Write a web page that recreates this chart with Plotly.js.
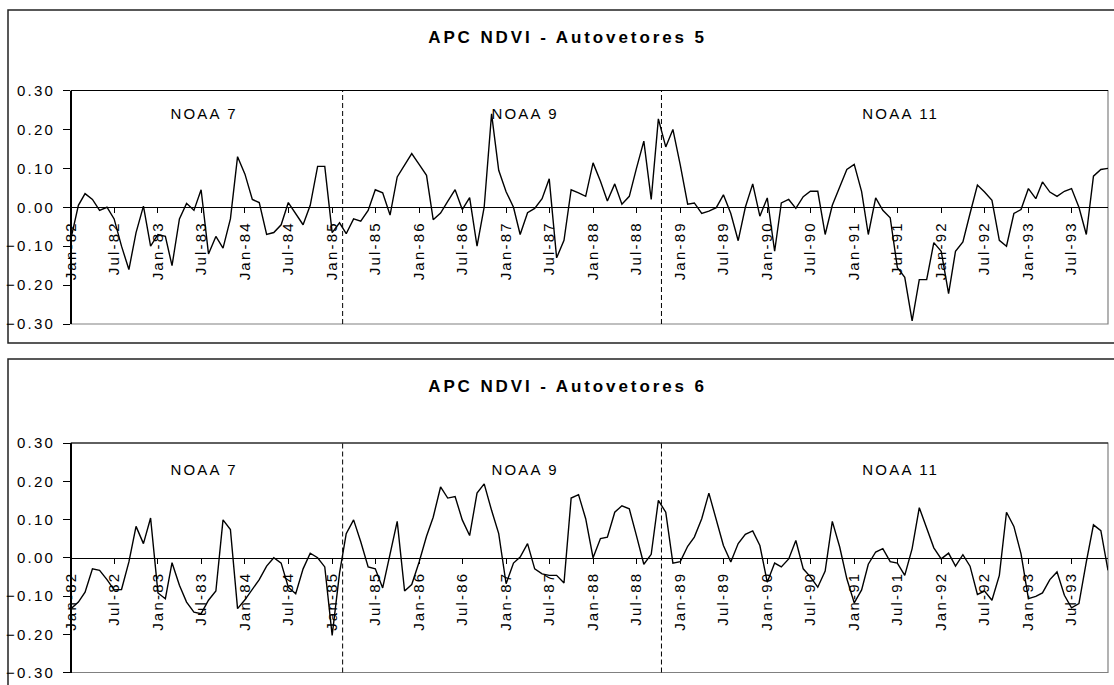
<!DOCTYPE html>
<html>
<head>
<meta charset="utf-8">
<script src="https://cdn.plot.ly/plotly-3.0.1.min.js"></script>
<style>
html,body{margin:0;padding:0;background:#fff;}
#chart{width:1114px;height:685px;}
#chart .main-svg text{letter-spacing:2.2px;}
#chart .main-svg .annotation.title-ann text{letter-spacing:2.9px;}
</style>
</head>
<body>
<div id="chart"></div>
<script>
// Monthly series, Jan-1982 .. Dec-1993 (144 months)
const startYear = 1982;
const pc5 = [
 -0.080, 0.005, 0.035, 0.020,-0.008, 0.000,-0.030,-0.100,-0.160,-0.065, 0.003,-0.100,
 -0.070,-0.075,-0.150,-0.030, 0.010,-0.008, 0.045,-0.120,-0.075,-0.105,-0.030, 0.130,
  0.085, 0.020, 0.012,-0.070,-0.065,-0.045, 0.012,-0.018,-0.045, 0.005, 0.105, 0.105,
 -0.065,-0.040,-0.068,-0.030,-0.036,-0.008, 0.045, 0.037,-0.020, 0.078, 0.110, 0.138,
  0.110, 0.082,-0.032,-0.015, 0.015, 0.045,-0.006, 0.025,-0.100, 0.000, 0.240, 0.095,
  0.040, 0.000,-0.070,-0.014,-0.003, 0.022, 0.073,-0.130,-0.085, 0.045, 0.037, 0.028,
  0.114, 0.067, 0.016, 0.060, 0.008, 0.028, 0.100, 0.170, 0.020, 0.227, 0.155, 0.200,
  0.108, 0.008, 0.011,-0.016,-0.010,-0.001, 0.032,-0.016,-0.086, 0.000, 0.060,-0.023,
  0.024,-0.113, 0.011, 0.020,-0.003, 0.027, 0.041, 0.041,-0.070, 0.005, 0.052, 0.097,
  0.110, 0.040,-0.070, 0.024,-0.008,-0.027,-0.155,-0.180,-0.292,-0.186,-0.186,-0.091,
 -0.113,-0.222,-0.113,-0.089,-0.016, 0.057, 0.039, 0.018,-0.085,-0.100,-0.016,-0.006,
  0.048, 0.022, 0.065, 0.039, 0.028, 0.041, 0.048, 0.000,-0.070, 0.080, 0.097, 0.100
];
const pc6 = [
 -0.133,-0.116,-0.090,-0.029,-0.033,-0.057,-0.084,-0.083,-0.011, 0.082, 0.037, 0.104,
 -0.092,-0.107,-0.013,-0.072,-0.116,-0.142,-0.146,-0.111,-0.087, 0.099, 0.074,-0.133,
 -0.110,-0.081,-0.057,-0.022, 0.000,-0.014,-0.077,-0.094,-0.029, 0.012, 0.000,-0.024,
 -0.203,-0.040, 0.063, 0.099, 0.042,-0.024,-0.029,-0.079, 0.006, 0.095,-0.087,-0.070,
 -0.011, 0.056, 0.106, 0.185, 0.156, 0.160, 0.099, 0.058, 0.169, 0.193, 0.124, 0.063,
 -0.068,-0.014, 0.002, 0.037,-0.029,-0.042,-0.046,-0.046,-0.066, 0.156, 0.165, 0.102,
  0.000, 0.050, 0.054, 0.119, 0.136, 0.128, 0.058,-0.017, 0.009, 0.150, 0.119,-0.014,
 -0.010, 0.030, 0.054, 0.102, 0.169, 0.099, 0.032,-0.011, 0.037, 0.061, 0.070, 0.032,
 -0.064,-0.014,-0.024,-0.003, 0.045,-0.029,-0.050,-0.077,-0.035, 0.095, 0.028,-0.055,
 -0.118,-0.084,-0.017, 0.015, 0.024,-0.010,-0.014,-0.046, 0.024, 0.131, 0.078, 0.026,
 -0.003, 0.012,-0.022, 0.008,-0.022,-0.096,-0.087,-0.111,-0.046, 0.119, 0.082, 0.010,
 -0.107,-0.101,-0.092,-0.057,-0.037,-0.098,-0.131,-0.120,-0.011, 0.086, 0.071,-0.033
];
const panelTitles = ['APC NDVI - Autovetores 5', 'APC NDVI - Autovetores 6'];
const satellites = ['NOAA 7', 'NOAA 9', 'NOAA 11'];
const satelliteChanges = ['1985-02-14', '1988-10-14'];
const yTicks = [-0.3, -0.2, -0.1, 0, 0.1, 0.2, 0.3];

const months = pc5.map((_, i) => {
  const y = startYear + Math.floor(i / 12);
  const m = (i % 12) + 1;
  return y + '-' + (m < 10 ? '0' + m : m) + '-01';
});

const W = 1114, H = 685;
const px = v => v / W;
const py = v => 1 - v / H;

const font = {family: 'Liberation Sans, Arial, sans-serif', size: 15, color: '#000'};

const traces = [
  {x: months, y: pc5, xaxis: 'x', yaxis: 'y', type: 'scatter', mode: 'lines',
   line: {color: '#000', width: 1.4}, hoverinfo: 'x+y'},
  {x: months, y: pc6, xaxis: 'x2', yaxis: 'y2', type: 'scatter', mode: 'lines',
   line: {color: '#000', width: 1.4}, hoverinfo: 'x+y'}
];

const xDom = [px(71), px(1108)];
const yDom1 = [py(324), py(90.5)];
const yDom2 = [py(672.5), py(443)];

function xAxis(pos) {
  return {
    type: 'date', domain: xDom, anchor: 'free', position: pos,
    range: [months[0], months[months.length - 1]],
    tick0: months[0], dtick: 'M6', tickformat: '%b-%y', tickangle: -90,
    ticks: 'outside', ticklen: 5, tickcolor: '#000', tickwidth: 1,
    showline: true, linecolor: '#000', linewidth: 1,
    showgrid: false, zeroline: false, tickfont: font, fixedrange: true,
    ticklabelstandoff: 2
  };
}
function yAxis(dom) {
  return {
    domain: dom, anchor: 'free', position: xDom[0], range: [-0.3, 0.3], tickvals: yTicks,
    tickformat: '.2f', ticks: 'outside', ticklen: 7, tickcolor: '#000',
    showline: true, linecolor: '#000', linewidth: 2,
    showgrid: false, zeroline: false, tickfont: font, fixedrange: true,
    ticklabelstandoff: 5
  };
}

const layout = {
  width: W, height: H, margin: {l: 0, r: 0, t: 0, b: 0},
  paper_bgcolor: '#fff', plot_bgcolor: '#fff', showlegend: false,
  xaxis: xAxis((yDom1[0] + yDom1[1]) / 2),
  yaxis: yAxis(yDom1),
  xaxis2: xAxis((yDom2[0] + yDom2[1]) / 2),
  yaxis2: yAxis(yDom2),
  shapes: [],
  annotations: []
};

// outer chart boxes
[[10, 343], [359, 700]].forEach(b => {
  layout.shapes.push({type: 'rect', xref: 'paper', yref: 'paper', layer: 'below',
    x0: px(8), x1: px(1124), y0: py(b[1]), y1: py(b[0]),
    line: {color: '#222', width: 1.5}, fillcolor: 'rgba(0,0,0,0)'});
});
// plot-area frames, top edges and satellite-change lines
[['x', 'y'], ['x2', 'y2']].forEach(([xa, ya]) => {
  layout.shapes.push({type: 'rect', xref: xa + ' domain', yref: ya + ' domain', layer: 'below',
    x0: 0, x1: 1, y0: 0, y1: 1, line: {color: '#808080', width: 1.2}});
  layout.shapes.push({type: 'line', xref: xa + ' domain', yref: ya + ' domain',
    x0: 0, x1: 1, y0: 1, y1: 1, line: {color: '#000', width: 1}});
  satelliteChanges.forEach(d => {
    layout.shapes.push({type: 'line', xref: xa, yref: ya + ' domain',
      x0: d, x1: d, y0: 0, y1: 1, line: {color: '#000', width: 1, dash: '5px,3px'}});
  });
});

// panel titles
const titleY = [37.5, 386.5];
panelTitles.forEach((t, k) => {
  layout.annotations.push({text: '<b>' + t + '</b>', xref: 'paper', yref: 'paper',
    x: px(567), y: py(titleY[k]), xanchor: 'center', yanchor: 'middle', showarrow: false,
    font: {family: 'Liberation Sans, Arial, sans-serif', size: 17, color: '#000'}});
});
// satellite labels
const satX = [204, 525, 900];
const satY = [113, 469];
satY.forEach(yy => {
  satellites.forEach((s, j) => {
    layout.annotations.push({text: s, xref: 'paper', yref: 'paper',
      x: px(satX[j]), y: py(yy), xanchor: 'center', yanchor: 'middle', showarrow: false,
      font: font});
  });
});

Plotly.newPlot('chart', traces, layout, {displayModeBar: false, staticPlot: true}).then(gd => {
  const anns = gd.querySelectorAll('.annotation');
  [0, 1].forEach(k => { if (anns[k]) anns[k].classList.add('title-ann'); });
});
</script>
</body>
</html>
